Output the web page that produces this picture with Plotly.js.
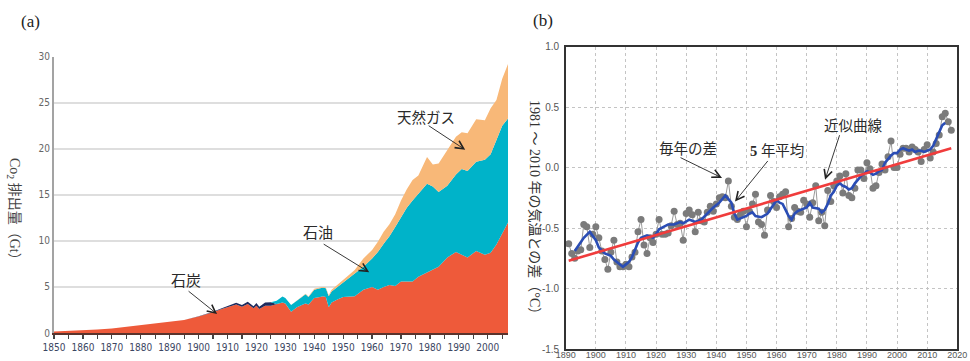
<!DOCTYPE html>
<html>
<head>
<meta charset="utf-8">
<script src="https://cdn.plot.ly/plotly-3.0.1.min.js"></script>
<style>
  html, body { margin: 0; padding: 0; background: #fff; }
  #chart { width: 970px; height: 361px; }
</style>
</head>
<body>
<div id="chart"></div>
<script>
// ---- (a) CO2 emissions by fuel (Gt) ----
const emissionYears = [1850,1855,1860,1865,1870,1875,1880,1885,1890,1895,
  1900,1903,1905,1908,1910,1913,1915,1917,1919,1920,
  1921,1923,1925,1927,1929,1930,1932,1934,1936,1937,
  1938,1940,1942,1943,1944,1945,1946,1948,1950,1952,
  1954,1957,1960,1962,1964,1966,1968,1970,1972,1974,
  1976,1979,1981,1983,1986,1989,1991,1993,1996,1999,
  2001,2003,2005,2007];
const coal = [0.15,0.2,0.26,0.38,0.5,0.68,0.87,1.0,1.2,1.4,
  1.8,2.05,2.25,2.6,2.8,3.1,2.85,3.15,2.7,2.95,
  2.6,2.95,2.95,3.15,3.3,3.2,2.3,2.8,3.1,3.2,
  3.1,3.8,3.9,4.0,3.9,2.8,3.3,3.65,3.9,3.95,
  4.0,4.7,5.0,4.7,5.0,5.2,5.1,5.6,5.6,5.6,
  6.1,6.6,6.9,7.2,8.2,8.8,8.5,8.2,8.9,8.5,
  8.7,9.6,10.8,12.0];
const oil = [0,0,0,0,0,0,0,0,0,0.02,
  0.03,0.04,0.06,0.1,0.12,0.18,0.2,0.25,0.2,0.3,
  0.25,0.35,0.4,0.35,0.65,0.6,0.74,0.7,0.9,1.0,
  0.8,0.9,0.95,0.9,0.95,1.2,1.2,1.35,1.5,1.95,
  2.5,2.5,3.1,4.1,4.7,5.3,6.4,7.0,8.0,8.8,
  9.0,9.6,9.0,8.1,7.8,8.4,9.3,9.4,9.7,10.3,
  10.7,11.3,11.7,11.3];
const gas = [0,0,0,0,0,0,0,0,0,0,
  0,0,0,0,0,0,0,0,0,0,
  0,0,0,0,0,0,0,0,0,0.05,
  0.05,0.1,0.1,0.1,0.1,0.1,0.2,0.25,0.4,0.5,
  0.35,0.9,0.9,1.1,1.3,1.3,1.4,1.8,2.0,2.2,
  2.0,2.9,2.4,3.1,3.9,4.1,4.0,4.1,4.6,4.3,
  5.0,4.4,5.1,5.9];
const emissionTicks = [0, 5, 10, 15, 20, 25, 30];

// ---- (b) global temperature anomaly vs 1981-2010 (°C) ----
const anomalyYears = [1891,1892,1893,1894,1895,1896,1897,1898,1899,1900,
  1901,1902,1903,1904,1905,1906,1907,1908,1909,1910,
  1911,1912,1913,1914,1915,1916,1917,1918,1919,1920,
  1921,1922,1923,1924,1925,1926,1927,1928,1929,1930,
  1931,1932,1933,1934,1935,1936,1937,1938,1939,1940,
  1941,1942,1943,1944,1945,1946,1947,1948,1949,1950,
  1951,1952,1953,1954,1955,1956,1957,1958,1959,1960,
  1961,1962,1963,1964,1965,1966,1967,1968,1969,1970,
  1971,1972,1973,1974,1975,1976,1977,1978,1979,1980,
  1981,1982,1983,1984,1985,1986,1987,1988,1989,1990,
  1991,1992,1993,1994,1995,1996,1997,1998,1999,2000,
  2001,2002,2003,2004,2005,2006,2007,2008,2009,2010,
  2011,2012,2013,2014,2015,2016,2017,2018];
const anomaly = [-0.63,-0.71,-0.75,-0.69,-0.68,-0.47,-0.49,-0.66,-0.55,-0.49,
  -0.58,-0.69,-0.76,-0.84,-0.70,-0.60,-0.78,-0.82,-0.82,-0.80,
  -0.82,-0.74,-0.70,-0.53,-0.43,-0.64,-0.71,-0.58,-0.62,-0.55,
  -0.43,-0.55,-0.55,-0.54,-0.48,-0.36,-0.47,-0.46,-0.60,-0.38,
  -0.35,-0.39,-0.53,-0.37,-0.44,-0.45,-0.37,-0.32,-0.36,-0.30,
  -0.25,-0.24,-0.25,-0.11,-0.32,-0.41,-0.43,-0.39,-0.36,-0.49,
  -0.36,-0.30,-0.22,-0.45,-0.47,-0.56,-0.35,-0.23,-0.28,-0.33,
  -0.24,-0.22,-0.20,-0.49,-0.42,-0.33,-0.36,-0.37,-0.27,-0.30,
  -0.41,-0.29,-0.15,-0.44,-0.37,-0.48,-0.19,-0.28,-0.15,-0.11,
  -0.07,-0.21,-0.05,-0.23,-0.25,-0.17,-0.02,-0.02,-0.09,0.04,
  -0.01,-0.17,-0.15,-0.04,0.03,-0.02,0.09,0.22,0.00,0.00,
  0.11,0.16,0.16,0.13,0.17,0.15,0.13,0.05,0.15,0.19,
  0.08,0.13,0.20,0.27,0.42,0.45,0.38,0.31];
// five-year running mean
const meanYears = [1893,1895,1896,1898,1900,1901,1903,1905,1906,1907,
  1909,1910,1911,1912,1914,1915,1917,1919,1920,1921,
  1923,1924,1926,1928,1929,1931,1932,1933,1935,1937,
  1939,1941,1943,1945,1946,1947,1948,1950,1951,1952,
  1953,1955,1957,1959,1960,1961,1962,1963,1964,1965,
  1966,1967,1969,1970,1971,1972,1974,1975,1976,1977,
  1978,1979,1980,1981,1982,1983,1984,1985,1986,1987,
  1988,1989,1990,1991,1992,1993,1994,1995,1996,1997,
  1998,1999,2000,2001,2002,2003,2004,2005,2006,2007,
  2008,2009,2010,2011,2012,2013,2014,2015,2016];
const meanValues = [-0.69,-0.62,-0.58,-0.53,-0.60,-0.66,-0.71,-0.73,-0.76,-0.78,
  -0.82,-0.80,-0.78,-0.74,-0.62,-0.58,-0.56,-0.58,-0.55,-0.51,
  -0.48,-0.47,-0.47,-0.45,-0.46,-0.43,-0.44,-0.45,-0.43,-0.38,
  -0.33,-0.29,-0.23,-0.29,-0.38,-0.43,-0.42,-0.40,-0.38,-0.37,
  -0.40,-0.41,-0.38,-0.30,-0.27,-0.29,-0.30,-0.35,-0.40,-0.43,
  -0.38,-0.36,-0.34,-0.33,-0.29,-0.33,-0.34,-0.37,-0.35,-0.30,
  -0.23,-0.20,-0.15,-0.13,-0.15,-0.16,-0.18,-0.17,-0.13,-0.10,
  -0.07,-0.05,-0.03,-0.04,-0.06,-0.05,-0.03,-0.02,0.04,0.07,
  0.10,0.12,0.12,0.15,0.16,0.15,0.14,0.15,0.13,0.14,
  0.14,0.13,0.14,0.15,0.18,0.24,0.30,0.35,0.37];
// linear trend end points
const trendYears = [1891, 2018];
const trendValues = [-0.77, 0.16];
const anomalyTicks = [-1.5, -1.0, -0.5, 0.0, 0.5, 1.0];
const anomalyTickText = ['-1.5', '-1.0', '-0.5', '0.0', '0.5', '1.0'];

// split oil into the early (pre-1926) band and the later band
const oilEarly = oil.map((v, i) => emissionYears[i] <= 1925 ? v : 0);
const oilLate = oil.map((v, i) => emissionYears[i] >= 1927 ? v : 0);

const narrow = 'Liberation Sans Narrow, DejaVu Sans Condensed, Arial Narrow, sans-serif';
const jp = 'Liberation Serif, Noto Sans CJK JP, serif';

function area(y, color) {
  return {
    x: emissionYears, y: y, xaxis: 'x', yaxis: 'y',
    type: 'scatter', mode: 'lines', stackgroup: 'fuel',
    line: { width: 0 }, fillcolor: color, hoverinfo: 'skip'
  };
}

const traces = [
  area(coal, '#ee5a3a'),
  area(oilEarly, '#1f2b5e'),
  area(oilLate, '#00b3c9'),
  area(gas, '#f8b878'),
  {
    x: anomalyYears, y: anomaly, xaxis: 'x2', yaxis: 'y2',
    type: 'scatter', mode: 'lines+markers',
    line: { color: '#9a9a9a', width: 1 },
    marker: { color: '#7b7b7b', size: 7 }
  },
  {
    x: meanYears, y: meanValues, xaxis: 'x2', yaxis: 'y2',
    type: 'scatter', mode: 'lines',
    line: { color: '#2a4db5', width: 2.6 }
  },
  {
    x: trendYears, y: trendValues, xaxis: 'x2', yaxis: 'y2',
    type: 'scatter', mode: 'lines',
    line: { color: '#f03c3c', width: 2.6 }
  }
];

function label(xref, yref, x, y, text, size) {
  return { xref: xref, yref: yref, x: x, y: y, text: text, showarrow: false,
           xanchor: 'center', yanchor: 'middle',
           font: { family: jp, size: size || 14, color: '#2a2a2a' } };
}
function pointer(xref, yref, x, y, ax, ay) {
  return { xref: xref, yref: yref, x: x, y: y, ax: ax, ay: ay, text: '',
           showarrow: true, arrowhead: 5, arrowsize: 1.8, arrowwidth: 0.9,
           arrowcolor: '#222', standoff: 0, startstandoff: 0 };
}
function paperText(px, py, text, font, angle) {
  return { xref: 'paper', yref: 'paper', x: px / 970, y: 1 - py / 361,
           xanchor: 'center', yanchor: 'middle', textangle: angle || 0,
           text: text, showarrow: false, font: font };
}

const annotations = [
  paperText(31, 22, '(a)', { family: 'Liberation Serif, serif', size: 17, color: '#222' }),
  paperText(543, 20, '(b)', { family: 'Liberation Serif, serif', size: 17, color: '#222' }),
  paperText(14, 212, 'Co<sub>2</sub> 排出量（Gt）', { family: jp, size: 14, color: '#444' }, 90),
  paperText(535, 210, '1981 ～ 2010 年の気温との差（°C）', { family: jp, size: 14, color: '#333' }, 90),

  label('x', 'y', 1978.7, 23.3, '天然ガス', 14.5),
  pointer('x', 'y', 1992.2, 19.9, -38, -25),
  label('x', 'y', 1941.3, 10.9, '石油', 15),
  pointer('x', 'y', 1959.0, 6.6, -47, -29),
  label('x', 'y', 1895.7, 5.65, '石炭', 15),
  pointer('x', 'y', 1906.4, 2.06, -30, -24),

  label('x2', 'y2', 1930.6, 0.155, '毎年の差', 14.5),
  pointer('x2', 'y2', 1941.9, -0.085, -43, -21),
  label('x2', 'y2', 1960.2, 0.14, '<b>5</b> 年平均', 14.5),
  pointer('x2', 'y2', 1946.2, -0.28, 34, -42),
  label('x2', 'y2', 1985.7, 0.345, '近似曲線', 14.5),
  pointer('x2', 'y2', 1976.1, -0.10, 15, -46)
];

const layout = {
  width: 970, height: 361,
  margin: { l: 0, r: 0, t: 0, b: 0 },
  paper_bgcolor: '#fff', plot_bgcolor: '#fff',
  showlegend: false,
  xaxis: {
    domain: [54 / 970, 508 / 970], range: [1850, 2007], anchor: 'y',
    tick0: 1850, dtick: 10, ticks: 'outside', ticklen: 4, tickwidth: 1.2, tickcolor: '#444',
    minor: { dtick: 5, ticks: 'outside', ticklen: 4, tickwidth: 1.2, tickcolor: '#444', showgrid: false },
    showgrid: false, zeroline: false,
    showline: true, linecolor: '#5a332c', linewidth: 2,
    tickfont: { family: narrow, size: 10, color: '#3b4662' }
  },
  yaxis: {
    domain: [1 - 333 / 361, 1 - 56.7 / 361], range: [0, 30], anchor: 'x',
    tickvals: emissionTicks, ticks: '',
    showgrid: true, gridcolor: '#dedede', gridwidth: 2, zeroline: false,
    showline: true, linecolor: '#a3a3a3', linewidth: 2,
    tickfont: { family: narrow, size: 10, color: '#666' }
  },
  xaxis2: {
    domain: [565.7 / 970, 957.3 / 970], range: [1890, 2020], anchor: 'y2',
    tick0: 1890, dtick: 10, ticks: '', ticklabelstandoff: -3,
    showgrid: true, gridcolor: '#c4c4c4', griddash: 'dot', gridwidth: 1, zeroline: false,
    showline: true, mirror: true, linecolor: '#333', linewidth: 1.5,
    tickfont: { family: 'Liberation Sans, Arial, sans-serif', size: 9, color: '#555' }
  },
  yaxis2: {
    domain: [1 - 349 / 361, 1 - 46.7 / 361], range: [-1.5, 1.0], anchor: 'x2',
    tickvals: anomalyTicks, ticktext: anomalyTickText, ticks: '', ticklabelstandoff: 3,
    showgrid: true, gridcolor: '#c4c4c4', griddash: 'dot', gridwidth: 1, zeroline: false,
    showline: true, mirror: true, linecolor: '#333', linewidth: 1.5,
    tickfont: { family: 'Liberation Sans, Arial, sans-serif', size: 10, color: '#555' }
  },
  annotations: annotations
};

Plotly.newPlot('chart', traces, layout, { staticPlot: true, displayModeBar: false });
</script>
</body>
</html>
